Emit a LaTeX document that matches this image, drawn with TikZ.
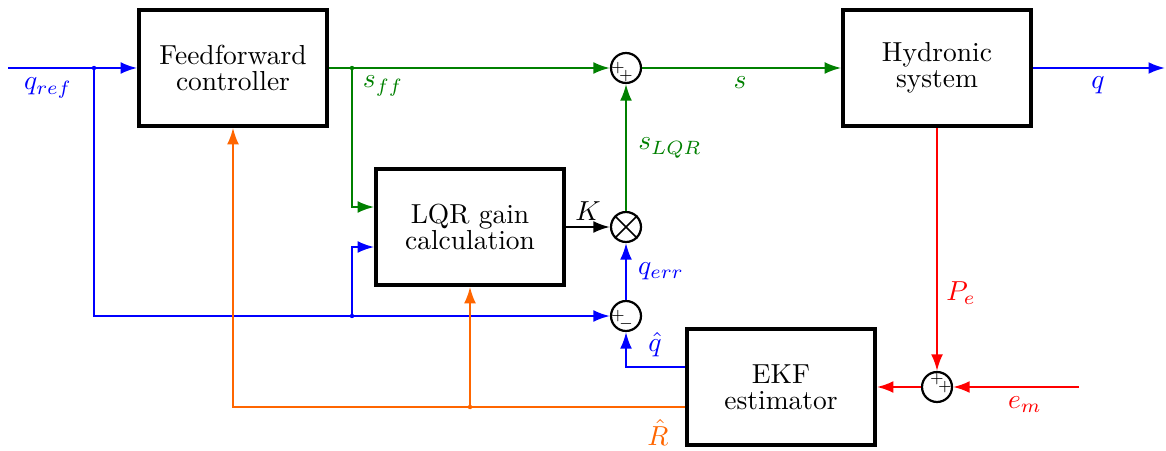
\documentclass[tikz,border=0pt]{standalone}
\usetikzlibrary{arrows.meta,calc}
\definecolor{cgreen}{RGB}{0,128,0}
\definecolor{corange}{RGB}{255,102,0}
\begin{document}
\begin{tikzpicture}[x=0.3637pt,y=-0.3637pt,
 block/.style={draw, line width=1.3pt, minimum width=68.4pt, minimum height=42.2pt, align=center, inner sep=0pt, font={\fontsize{10pt}{9.6pt}\selectfont}},
 sumj/.style={draw, circle, line width=0.8pt, minimum size=10.9pt, inner sep=0pt},
 conn/.style={line width=0.75pt, -{Latex[length=6pt,width=4.3pt]}},
 dotn/.style={circle, fill, inner sep=0pt, minimum size=1.6pt},
 sgn/.style={font=\tiny, inner sep=0pt},
 lbl/.style={inner sep=0pt}]
\useasboundingbox (0,0) rectangle (1166,450);
% blocks
\node[block] (ff) at (233,68) {Feedforward\\controller};
\node[block] (hyd) at (937,68) {Hydronic\\system};
\node[block] (lqr) at (470,227) {LQR gain\\calculation};
\node[block] (ekf) at (781,387) {EKF\\estimator};
% junctions
\node[sumj] (s1) at (626,68) {};
\node[sumj] (m) at (626,227) {};
\draw[line width=0.6pt] (m.north west) -- (m.south east) (m.north east) -- (m.south west);
\node[sumj] (s2) at (626,316) {};
\node[sumj] (s3) at (937,387) {};
\node[sgn] at ($(s1)+(-8,0)$) {$+$};
\node[sgn] at ($(s1)+(0,8)$) {$+$};
\node[sgn] at ($(s2)+(-8,0)$) {$+$};
\node[sgn] at ($(s2)+(0,8)$) {$-$};
\node[sgn] at ($(s3)+(0,-8)$) {$+$};
\node[sgn] at ($(s3)+(8,0)$) {$+$};
% coordinates
\coordinate (qin) at (8,68);
\coordinate (d1) at (94,68);
\coordinate (d2) at (352,68);
\coordinate (d3) at (352,316);
\coordinate (d4) at (470,407);
\coordinate (qout) at (1165,68);
\coordinate (emin) at (1079,387);
% blue
\draw[conn,blue] (qin) -- (ff.west);
\draw[conn,blue] (d1) |- (s2.west);
\draw[conn,blue] (d3) |- ($(lqr.west)+(0,20)$);
\draw[conn,blue] (s2.north) -- (m.south);
\draw[conn,blue] ($(ekf.west)+(0,-20)$) -| (s2.south);
\draw[conn,blue] (hyd.east) -- (qout);
% green
\draw[conn,cgreen] (ff.east) -- (s1.west);
\draw[conn,cgreen] (d2) |- ($(lqr.west)+(0,-20)$);
\draw[conn,cgreen] (s1.east) -- (hyd.west);
\draw[conn,cgreen] (m.north) -- (s1.south);
% black
\draw[conn] (lqr.east) -- (m.west);
% orange
\draw[conn,corange] ($(ekf.west)+(0,20)$) -| (ff.south);
\draw[conn,corange] (d4) -- (lqr.south);
% red
\draw[conn,red] (hyd.south) -- (s3.north);
\draw[conn,red] (emin) -- (s3.east);
\draw[conn,red] (s3.west) -- (ekf.east);
% dots
\node[dotn,blue] at (d1) {};
\node[dotn,cgreen] at (d2) {};
\node[dotn,blue] at (d3) {};
\node[dotn,corange] at (d4) {};
% labels
\node[lbl,blue] at (48,88) {$q_{ref}$};
\node[lbl,cgreen] at (383,86) {$s_{ff}$};
\node[lbl,cgreen] at (740,83) {$s$};
\node[lbl,blue] at (1098,85) {$q$};
\node[lbl] at (588,211) {$K$};
\node[lbl,cgreen] at (670,148) {$s_{LQR}$};
\node[lbl,blue] at (661,271) {$q_{err}$};
\node[lbl,blue] at (655,345) {$\hat{q}$};
\node[lbl,corange] at (658,432) {$\hat{R}$};
\node[lbl,red] at (961,293) {$P_e$};
\node[lbl,red] at (1025,405) {$e_m$};
\end{tikzpicture}
\end{document}
